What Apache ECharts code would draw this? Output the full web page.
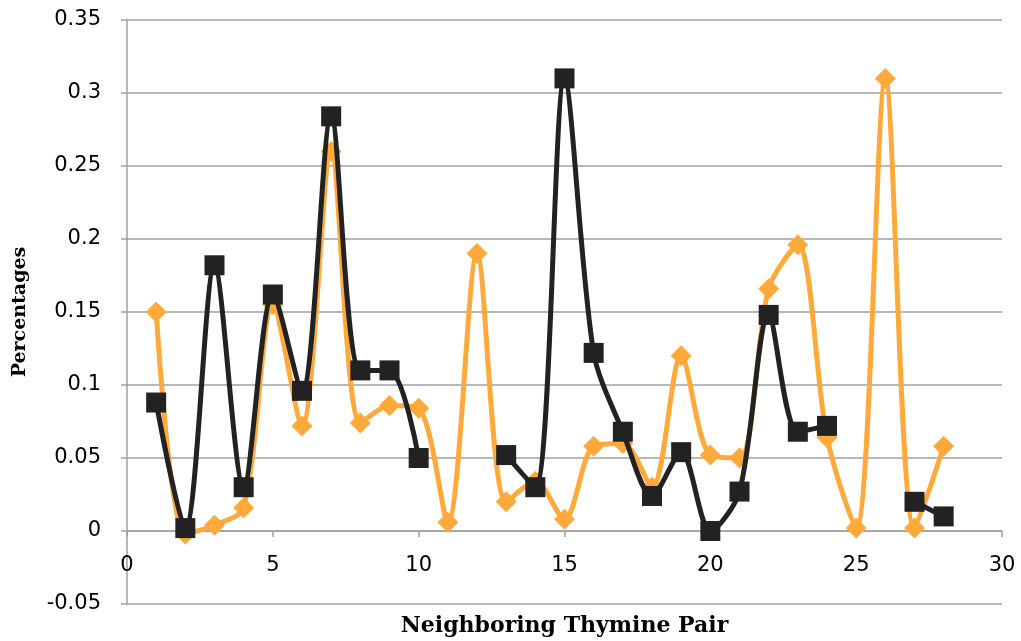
<!DOCTYPE html>
<html>
<head>
<meta charset="utf-8">
<script src="https://cdn.jsdelivr.net/npm/echarts@6/dist/echarts.min.js"></script>
<style>html,body{margin:0;padding:0;background:#fff;}#c{width:1021px;height:641px;}</style>
</head>
<body>
<div id="c"></div>
<script>
var pairs = [1,2,3,4,5,6,7,8,9,10,11,12,13,14,15,16,17,18,19,20,21,22,23,24,25,26,27,28];
var orangeValues = [0.15,-0.002,0.004,0.016,0.155,0.072,0.26,0.074,0.086,0.084,0.006,0.19,0.02,0.034,0.008,0.058,0.06,0.03,0.12,0.052,0.05,0.166,0.196,0.064,0.002,0.31,0.002,0.058];
var blackValues = [0.088,0.002,0.182,0.03,0.162,0.096,0.284,0.11,0.11,0.05,null,null,0.052,0.03,0.31,0.122,0.068,0.024,0.054,0.0,0.027,0.148,0.068,0.072,null,null,0.02,0.01];
var xTicks = {min:0, max:30, step:5};
var yTicks = {min:-0.05, max:0.35, step:0.05};

function pts(vals){ return pairs.map(function(p,i){ return [p, vals[i]]; }); }

var chart = echarts.init(document.getElementById('c'));
var grey = '#a0a0a0';
chart.setOption({
  animation:false,
  grid:{left:127,right:19,top:20,bottom:37,containLabel:false,outerBoundsMode:'none'},
  xAxis:{
    type:'value', min:xTicks.min, max:xTicks.max, interval:xTicks.step,
    offset:-73,
    name:'Neighboring Thymine Pair', nameLocation:'middle', nameGap:84,
    nameTextStyle:{fontFamily:'DejaVu Serif', fontWeight:'bold', fontSize:22, color:'#000'},
    axisLine:{onZero:false, lineStyle:{color:grey,width:1.5}},
    axisTick:{show:true,length:6,lineStyle:{color:grey,width:1.5}},
    axisLabel:{fontFamily:'DejaVu Sans', fontSize:21, color:'#000', margin:24},
    splitLine:{show:false}
  },
  yAxis:{
    type:'value', min:yTicks.min, max:yTicks.max, interval:yTicks.step,
    name:'Percentages', nameLocation:'middle', nameGap:97,
    nameTextStyle:{fontFamily:'DejaVu Serif', fontWeight:'bold', fontSize:19, color:'#000'},
    axisLine:{show:true, lineStyle:{color:grey,width:1.5}},
    axisTick:{show:true,length:6,lineStyle:{color:grey,width:1.5}},
    axisLabel:{fontFamily:'DejaVu Sans', fontSize:21, color:'#000', margin:26},
    splitLine:{show:true, lineStyle:{color:grey,width:1.5}}
  },
  series:[
    {type:'line', data:pts(orangeValues), smooth:0.3, symbol:'diamond', symbolSize:21,
     lineStyle:{color:'#FFA93A',width:5}, itemStyle:{color:'#FFA93A'}, z:2},
    {type:'line', data:pts(blackValues), smooth:0.3, connectNulls:false, symbol:'rect', symbolSize:20,
     lineStyle:{color:'#222222',width:5}, itemStyle:{color:'#222222'}, z:3}
  ]
});
</script>
</body>
</html>
